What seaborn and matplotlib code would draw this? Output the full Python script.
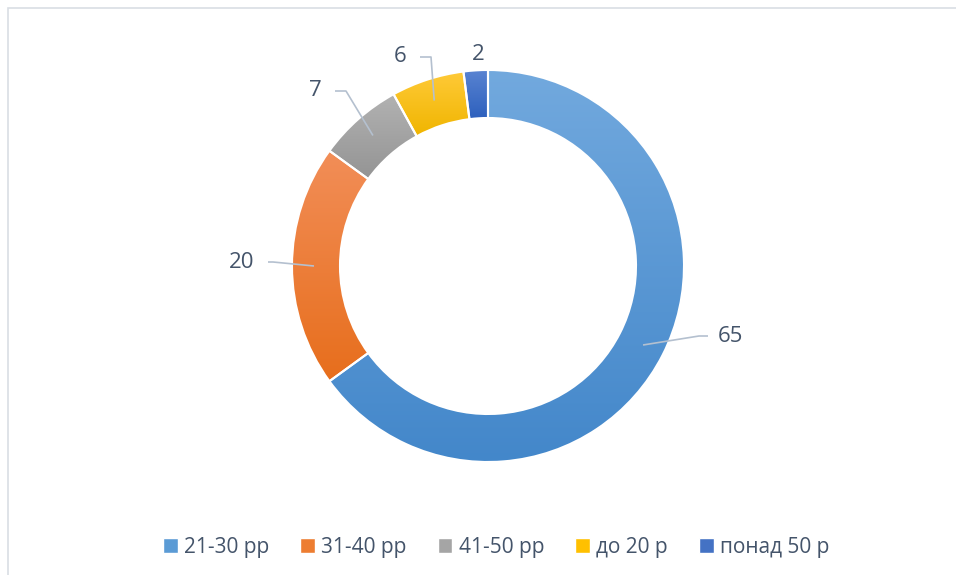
import numpy as np
import matplotlib
matplotlib.use("Agg")
import matplotlib.pyplot as plt
import seaborn as sns
from matplotlib.colors import LinearSegmentedColormap
from matplotlib.patches import Rectangle

# data
categories = ['21-30 рр', '31-40 рр', '41-50 рр', 'до 20 р', 'понад 50 р']
values = [65, 20, 7, 6, 2]

# gradient colors (top, bottom) per slice
top_colors = ['#72A9DE', '#F28E58', '#B2B2B2', '#FFCA38', '#5A84D2']
bottom_colors = ['#4387CA', '#E76E1C', '#949494', '#F0B500', '#2D60BD']
base_colors = sns.color_palette(['#5B9BD5', '#ED7D31', '#A5A5A5', '#FFC000', '#4472C4'])

# label offsets from the slice (data units), and whether a leader line is drawn
label_pos = [(1.21, -0.35), (-1.23, 0.02), (-0.865, 0.875), (-0.44, 1.045), (-0.05, 1.06)]
leader = [True, True, True, True, False]

sns.set_style('white')
plt.rcParams['font.family'] = ['Open Sans', 'DejaVu Sans']

fig = plt.figure(figsize=(9.56, 5.75), dpi=100)
W, H = 956, 575
cx, cy = 488, 266
size = 440
ax = fig.add_axes([(cx - size / 2) / W, 1 - (cy + size / 2) / H, size / W, size / H])
ax.set_xlim(-1.1, 1.1)
ax.set_ylim(-1.1, 1.1)
ax.set_aspect('equal')
ax.axis('off')

R = 0.98
width = 0.24
wedges, _ = ax.pie(values, colors=base_colors, startangle=90, counterclock=False,
                   radius=R, wedgeprops=dict(width=width, edgecolor='white', linewidth=1.5))

# vertical gradient fill clipped to each wedge (lighter at top)
grad = np.linspace(0, 1, 256).reshape(-1, 1)
for w, c0, c1 in zip(wedges, top_colors, bottom_colors):
    ext = w.get_path().get_extents()
    cmap = LinearSegmentedColormap.from_list('g', [c0, c1])
    im = ax.imshow(grad, cmap=cmap, extent=[ext.x0, ext.x1, ext.y0, ext.y1],
                   origin='upper', aspect='auto', zorder=1)
    im.set_clip_path(w)
    w.set_facecolor('none')
    w.set_zorder(2)
ax.set_xlim(-1.1, 1.1)
ax.set_ylim(-1.1, 1.1)

# labels with leader lines
cum = np.cumsum([0] + values[:-1])
total = sum(values)
r_mid = R - width / 2 + 0.01
line_col = '#B4C0CF'
for i, v in enumerate(values):
    ang = np.deg2rad(90 - (cum[i] + v / 2) / total * 360)
    px, py = r_mid * np.cos(ang), r_mid * np.sin(ang)
    lx, ly = label_pos[i]
    ax.text(lx, ly, str(v), ha='center', va='center', fontsize=16, color='#44546A')
    if leader[i]:
        side = -1 if lx > px else 1
        ex = lx + side * 0.1
        elx = ex + side * 0.055
        ax.plot([px, elx, ex], [py, ly, ly], color=line_col, lw=1.2, zorder=3,
                solid_capstyle='butt')

# legend
handles = [Rectangle((0, 0), 1, 1, facecolor=c) for c in base_colors]
fig.legend(handles, categories, loc='center', bbox_to_anchor=(0.519, 1 - 547 / H),
           ncol=5, frameon=False, fontsize=15, handlelength=0.7, handleheight=0.7,
           handletextpad=0.3, columnspacing=1.5, labelcolor='#44546A')

# chart frame
fig.patches.append(Rectangle((8 / W, -0.1), 1.1, 1 - 8 / H + 0.1, transform=fig.transFigure,
                             fill=False, edgecolor='#D9DEE4', lw=1.2))

fig.savefig('out.png', dpi=100, facecolor='white')
